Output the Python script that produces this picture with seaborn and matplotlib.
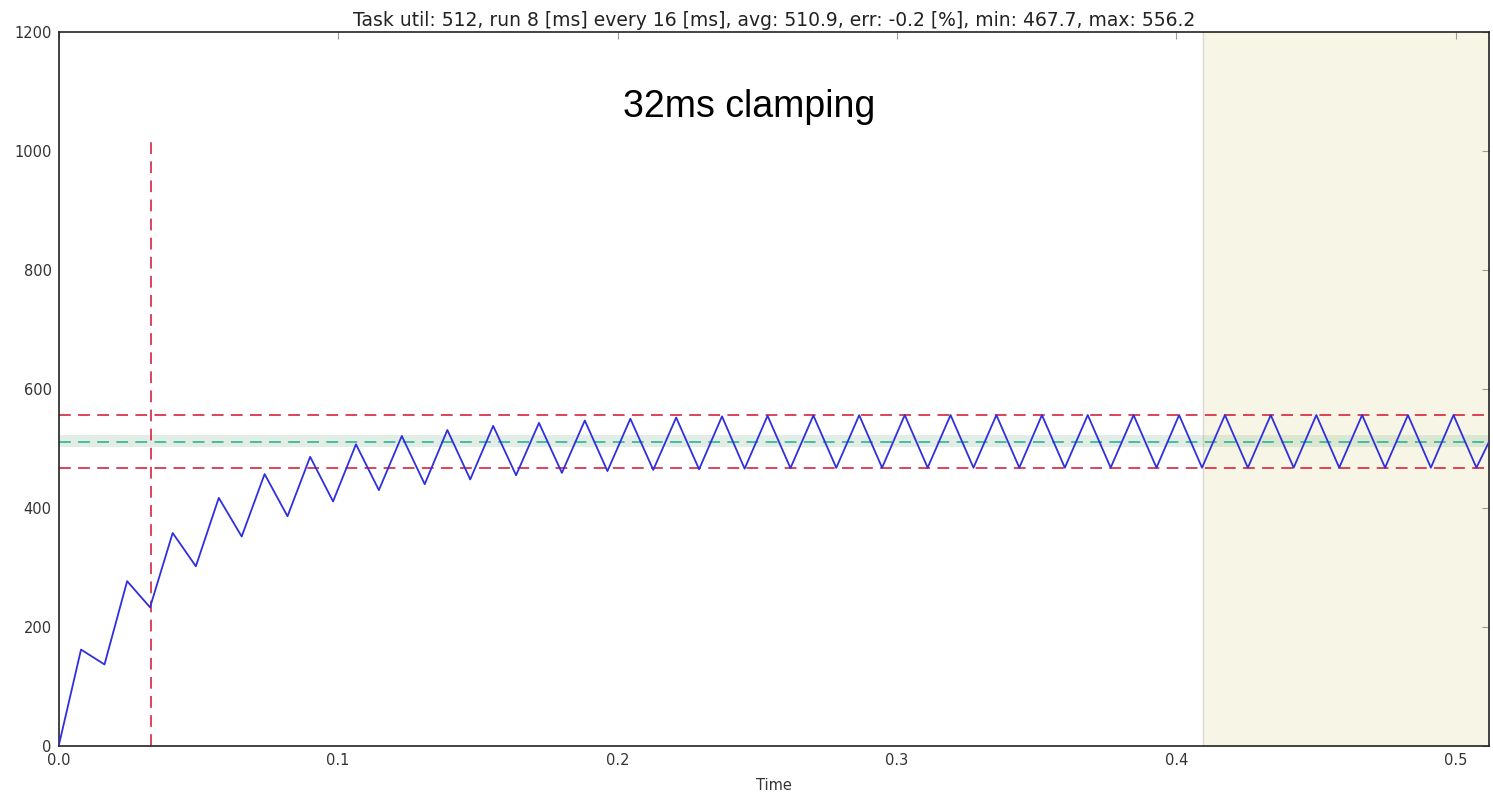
import matplotlib
matplotlib.use("Agg")
import matplotlib.pyplot as plt
import seaborn as sns
import pandas as pd

# ---- data ----
time_s = [0.0000, 0.0080, 0.0164, 0.0245, 0.0327, 0.0408, 0.0491, 0.0573, 0.0655, 0.0737,
          0.0819, 0.0900, 0.0982, 0.1064, 0.1146, 0.1228, 0.1310, 0.1391, 0.1473, 0.1555,
          0.1637, 0.1719, 0.1801, 0.1883, 0.1964, 0.2046, 0.2128, 0.2210, 0.2292, 0.2374,
          0.2455, 0.2537, 0.2619, 0.2701, 0.2783, 0.2865, 0.2947, 0.3028, 0.3110, 0.3192,
          0.3274, 0.3356, 0.3438, 0.3519, 0.3601, 0.3683, 0.3765, 0.3847, 0.3929, 0.4010,
          0.4092, 0.4174, 0.4256, 0.4338, 0.4420, 0.4501, 0.4583, 0.4665, 0.4747, 0.4829,
          0.4911, 0.4992, 0.5074, 0.5120]
util = [0, 162, 137, 277, 233, 358, 302, 417, 352, 457,
        386, 486, 411, 507, 430, 521, 440, 531, 448, 538,
        455, 543, 459, 547, 462, 550, 464, 552, 465, 554,
        466, 555, 467, 555.5, 467.5, 556, 467.7, 556.2, 467.7, 556.2,
        467.7, 556.2, 467.7, 556.2, 467.7, 556.2, 467.7, 556.2, 467.7, 556.2,
        467.7, 556.2, 467.7, 556.2, 467.7, 556.2, 467.7, 556.2, 467.7, 556.2,
        467.7, 556.2, 467.7, 512]

task_util = 512
band_lo, band_hi = 501.8, 522.2
avg_util = 510.9
min_util = 467.7
max_util = 556.2
vline_t = 0.0330
vline_top = 1024
shade_start = 0.4096
x_max = 0.512
y_max = 1200

title = ("Task util: 512, run 8 [ms] every 16 [ms], avg: 510.9, "
         "err: -0.2 [%], min: 467.7, max: 556.2")
annotation = "32ms clamping"

df = pd.DataFrame({"Time": time_s, "util": util})

sns.set_style("white")
plt.rcParams["font.family"] = ["DejaVu Sans"]
plt.rcParams["xtick.direction"] = "in"
plt.rcParams["ytick.direction"] = "in"

fig = plt.figure(figsize=(14.93, 7.94), dpi=100)
ax = fig.add_axes([0.0393, 0.0605, 0.9582, 0.8992])

# shaded steady-state region
ax.axvspan(shade_start, x_max, color="#f7f6e6", zorder=0)
ax.axvline(shade_start, color="#d9d9d0", lw=1, zorder=0.5)

# tolerance band and average
ax.axhspan(band_lo, band_hi, color="#7fb58a", alpha=0.22, lw=0, zorder=1)
ax.axhline(avg_util, color="#1fae93", lw=1.1, dashes=(7.7, 4.8), zorder=2)

# min / max
ax.axhline(max_util, color="#d0122e", lw=1.1, dashes=(7.7, 4.8), zorder=2)
ax.axhline(min_util, color="#d0122e", lw=1.1, dashes=(7.7, 4.8), zorder=2)
ax.plot([vline_t, vline_t], [0, vline_top], color="#d0122e", lw=1.1,
        dashes=(7.7, 4.8), zorder=2)

sns.lineplot(data=df, x="Time", y="util", ax=ax, color="#2f2fe0", lw=1.3,
             zorder=3, estimator=None, sort=False)

ax.set_xlim(0, x_max)
ax.set_ylim(0, y_max)
ax.set_xticks([0.0, 0.1, 0.2, 0.3, 0.4, 0.5])
ax.set_yticks([0, 200, 400, 600, 800, 1000, 1200])
ax.set_xlabel("Time", fontsize=10.5, color="#333333", labelpad=7)
ax.set_ylabel("")
ax.set_title(title, fontsize=13.5, color="#222222", pad=4)

ax.tick_params(axis="both", which="both", direction="in", top=True, right=True,
               length=5, width=0.8, color="#999999", labelsize=10.5,
               labelcolor="#333333", pad=5)
for s in ax.spines.values():
    s.set_color("#222222")
    s.set_linewidth(1.2)

ax.text(0.4826, 0.881, annotation, transform=ax.transAxes, ha="center",
        va="baseline", fontsize=27, family=["Liberation Sans", "DejaVu Sans"],
        color="black")

fig.savefig("out.png", dpi=100)
